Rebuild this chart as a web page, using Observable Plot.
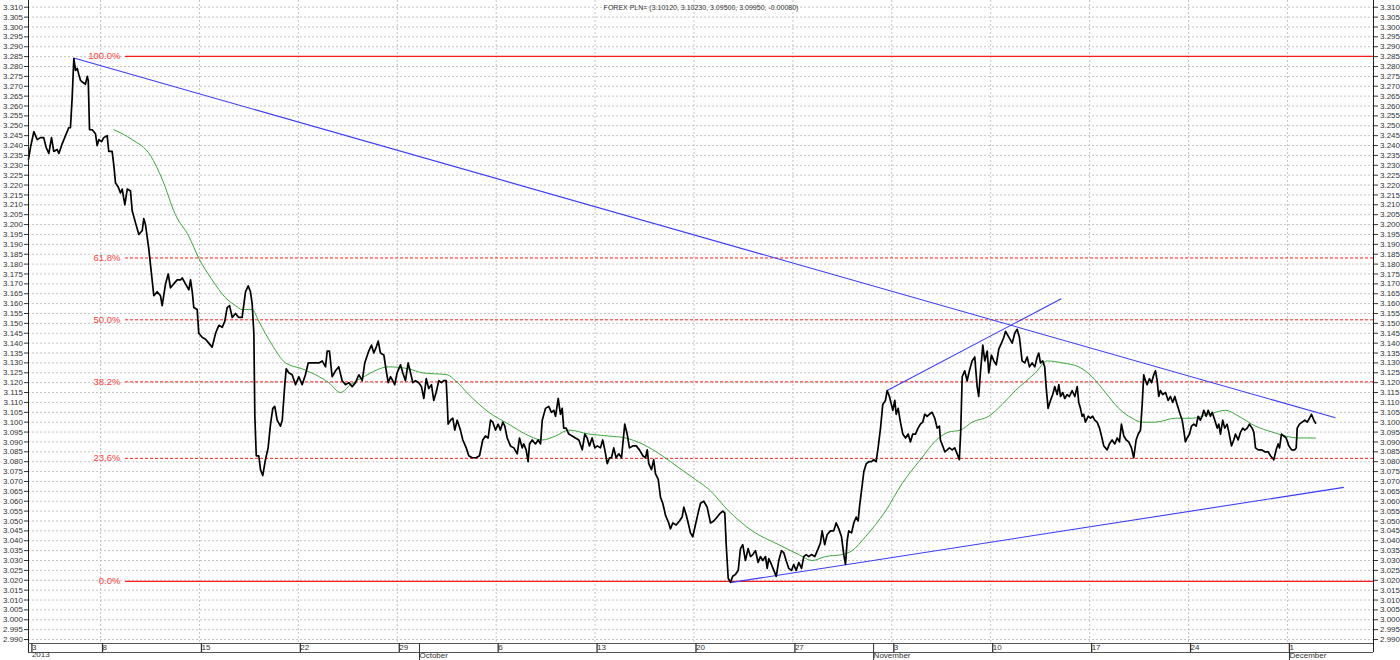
<!DOCTYPE html>
<html>
<head>
<meta charset="utf-8">
<script src="https://cdn.jsdelivr.net/npm/d3@7"></script>
<script src="https://cdn.jsdelivr.net/npm/@observablehq/plot@0.6"></script>
<style>
  html, body { margin: 0; padding: 0; background: #fff; }
  #chart svg { display: block; }
</style>
</head>
<body>
<div id="chart"></div>
<script>
// ---- Data (x = chart time position in days after 3 Sep 2013, as on the chart's axis) ----
const pricePos = [
  -0.10,0.04,0.28,0.52,0.75,0.98,1.15,1.34,1.53,1.69,
  1.93,2.05,2.29,2.52,2.75,2.87,2.99,3.11,3.23,3.35,
  3.46,3.58,3.74,3.93,4.06,4.13,4.22,4.41,4.64,4.76,
  4.88,5.07,5.23,5.47,5.58,5.82,5.94,6.06,6.25,6.41,
  6.53,6.72,6.89,7.12,7.24,7.47,7.71,7.95,8.06,8.18,
  8.41,8.53,8.77,9.01,9.24,9.36,9.60,9.79,9.95,10.18,
  10.42,10.66,10.78,11.01,11.25,11.37,11.49,11.60,11.84,11.95,
  12.19,12.43,12.66,12.90,13.14,13.37,13.61,13.79,13.96,14.13,
  14.32,14.55,14.78,15.02,15.26,15.45,15.61,15.73,15.85,15.92,
  16.02,16.20,16.32,16.48,16.67,16.86,17.03,17.19,17.33,17.50,
  17.73,17.86,18.04,18.14,18.32,18.56,18.80,19.03,19.27,19.50,
  19.70,19.98,20.21,20.45,20.69,20.92,21.04,21.20,21.39,21.63,
  21.86,22.10,22.34,22.57,22.81,
  23.04,23.28,23.52,23.70,23.98,24.18,24.34,24.51,24.65,24.81,
  25.05,25.22,25.36,25.52,25.68,25.82,25.99,26.23,26.39,26.58,
  26.77,26.94,27.10,27.29,27.52,27.71,27.88,28.05,28.23,28.42,
  28.58,28.75,28.94,29.13,29.29,29.46,29.53,29.60,29.77,29.93,
  30.07,30.24,30.47,30.64,30.88,31.06,31.30,31.58,31.82,32.05,
  32.24,32.43,32.60,32.76,32.95,33.14,33.30,33.47,33.61,33.78,
  34.01,34.25,34.49,34.65,34.84,34.95,35.12,35.26,35.36,35.55,
  35.78,35.97,36.14,36.26,36.49,36.72,36.91,37.08,37.20,37.39,
  37.55,37.67,37.78,37.95,38.14,38.38,38.61,38.85,39.09,39.27,
  39.44,39.60,39.79,39.98,40.15,40.38,40.54,40.69,40.86,41.02,
  41.16,41.32,41.49,41.68,41.87,42.10,42.27,42.43,42.67,42.91,
  43.14,43.38,43.57,43.69,43.80,43.99,44.15,44.27,44.47,44.63,
  44.79,44.98,45.21,45.33,45.50,45.74,45.97,46.16,46.28,46.45,
  46.59,46.75,46.91,47.10,47.29,47.46,47.69,47.93,48.17,48.40,
  48.64,48.87,49.04,49.18,49.28,49.42,49.58,49.74,49.94,50.13,
  50.29,50.45,50.64,50.83,51.00,51.16,51.35,51.54,51.70,51.87,
  52.06,52.18,52.29,52.48,52.65,52.82,53.00,53.19,53.35,53.52,
  53.71,53.90,54.06,54.23,54.42,54.61,54.77,54.94,55.12,55.31,
  55.55,55.79,55.95,56.07,56.25,56.42,56.66,56.89,57.06,57.25,
  57.44,57.60,57.72,57.84,57.95,58.15,58.31,58.48,58.62,58.71,
  58.85,59.02,59.19,59.37,59.56,59.72,59.89,60.03,60.20,60.36,
  60.55,60.67,60.83,60.97,61.07,61.21,61.31,61.45,61.61,61.78,
  61.97,62.16,62.32,62.48,62.67,62.86,63.02,63.19,63.33,63.50,
  63.66,63.85,64.04,64.21,64.37,64.44,64.60,64.75,64.92,65.08,
  65.27,65.45,65.62,65.78,65.88,65.98,66.16,66.33,66.49,66.68,
  66.87,67.04,67.15,67.27,67.44,67.58,67.75,67.86,68.05,68.22,
  68.39,68.57,68.76,68.93,
  69.05,69.28,69.52,69.70,69.87,70.03,70.22,70.41,70.58,70.74,
  70.93,71.12,71.29,71.40,71.52,71.68,71.82,71.92,72.06,72.23,
  72.39,72.53,72.70,72.82,72.94,73.10,73.24,73.41,73.57,73.76,
  73.95,74.12,74.23,74.35,74.47,74.58,74.70,74.90,75.06,75.22,
  75.36,75.53,75.70,75.84,76.00,76.24,76.40,76.59,76.78,76.95,
  77.11,77.25,77.42,77.59,77.77,77.96,78.12,78.29,78.44,78.60,
  78.72,78.83,78.95,79.07,79.23,79.38,79.54,79.66,79.78,79.89,
  80.01,80.17,80.37,80.56,80.72,80.88,81.03,81.19,81.36,81.55,
  81.66,81.78,81.90,82.07,82.21,82.37,82.54,82.68,82.84,82.96,
  83.08,83.25,83.39,83.55,83.67,83.86,84.03,84.14,84.26,84.42,
  84.56,84.73,84.85,85.04,85.20,85.32,85.51,85.68,85.84,85.98,
  86.15,86.31,86.50,86.62,86.74,86.93,87.16,87.40,87.64,87.80,
  88.03,88.20,88.34,88.44,88.58,88.74,88.91,89.10,89.29,89.52,
  89.62,89.69,89.85,90.04,90.23,90.40,90.56,90.70,90.87,90.99
];
const priceClose = [
  3.233,3.239,3.247,3.243,3.244,3.244,3.239,3.236,3.244,3.237,
  3.238,3.236,3.241,3.245,3.249,3.249,3.264,3.284,3.278,3.279,
  3.276,3.273,3.272,3.271,3.275,3.273,3.248,3.248,3.246,3.240,
  3.243,3.242,3.244,3.245,3.237,3.237,3.230,3.221,3.219,3.216,
  3.218,3.210,3.218,3.217,3.207,3.201,3.195,3.197,3.203,3.200,
  3.188,3.180,3.164,3.166,3.164,3.159,3.170,3.175,3.168,3.170,
  3.172,3.172,3.173,3.170,3.167,3.172,3.166,3.158,3.157,3.145,
  3.143,3.142,3.140,3.138,3.145,3.149,3.148,3.151,3.158,3.159,
  3.153,3.155,3.153,3.153,3.166,3.169,3.166,3.160,3.145,3.103,
  3.083,3.083,3.076,3.073,3.081,3.087,3.099,3.107,3.108,3.101,
  3.098,3.101,3.119,3.127,3.125,3.124,3.119,3.123,3.119,3.124,
  3.130,3.130,3.130,3.130,3.131,3.128,3.136,3.136,3.123,3.126,
  3.128,3.121,3.119,3.120,3.118,
  3.120,3.124,3.121,3.130,3.136,3.139,3.135,3.138,3.141,3.135,
  3.134,3.126,3.120,3.123,3.121,3.119,3.125,3.129,3.125,3.121,
  3.130,3.125,3.120,3.121,3.120,3.118,3.112,3.122,3.117,3.119,
  3.111,3.115,3.121,3.120,3.121,3.121,3.111,3.099,3.101,3.102,
  3.096,3.101,3.096,3.091,3.087,3.083,3.082,3.082,3.083,3.091,
  3.093,3.092,3.101,3.100,3.096,3.099,3.096,3.100,3.098,3.092,
  3.088,3.087,3.084,3.092,3.087,3.089,3.086,3.080,3.089,3.091,
  3.089,3.091,3.089,3.101,3.107,3.108,3.105,3.106,3.103,3.112,
  3.104,3.107,3.097,3.097,3.094,3.093,3.092,3.091,3.086,3.094,
  3.092,3.088,3.092,3.087,3.088,3.087,3.091,3.086,3.079,3.082,
  3.082,3.087,3.082,3.084,3.082,3.099,3.094,3.087,3.088,3.088,
  3.086,3.083,3.082,3.086,3.079,3.076,3.081,3.074,3.071,3.062,
  3.059,3.053,3.049,3.046,3.049,3.048,3.050,3.052,3.057,3.053,
  3.049,3.044,3.042,3.048,3.054,3.059,3.060,3.057,3.049,3.050,
  3.052,3.054,3.055,3.054,3.038,3.021,3.019,3.022,3.023,3.025,
  3.036,3.038,3.030,3.036,3.032,3.033,3.035,3.029,3.032,3.030,
  3.032,3.026,3.031,3.028,3.025,3.022,3.030,3.035,3.034,3.030,
  3.026,3.025,3.028,3.025,3.029,3.026,3.032,3.033,3.032,3.033,
  3.032,3.036,3.039,3.045,3.038,3.043,3.045,3.045,3.049,3.046,
  3.042,3.033,3.028,3.040,3.045,3.044,3.049,3.052,3.050,3.057,
  3.065,3.075,3.079,3.080,3.080,3.081,3.080,3.087,3.097,3.109,
  3.111,3.116,3.113,3.109,3.106,3.111,3.104,3.107,3.100,3.094,
  3.092,3.094,3.090,3.094,3.094,3.097,3.099,3.100,3.104,3.103,
  3.104,3.105,3.102,3.097,3.098,3.091,3.088,3.085,3.086,3.087,
  3.086,3.087,3.084,3.081,3.096,3.123,3.126,3.121,3.126,3.131,
  3.133,3.118,3.113,3.125,3.139,3.131,3.136,3.125,3.134,3.131,
  3.129,3.137,3.140,3.143,
  3.146,3.143,3.140,3.145,3.147,3.143,3.131,3.130,3.133,3.128,
  3.130,3.128,3.133,3.135,3.130,3.131,3.128,3.118,3.107,3.111,
  3.114,3.118,3.114,3.119,3.113,3.115,3.112,3.114,3.113,3.116,
  3.113,3.118,3.110,3.107,3.103,3.104,3.100,3.103,3.102,3.103,
  3.101,3.100,3.097,3.093,3.088,3.086,3.089,3.091,3.089,3.092,
  3.090,3.099,3.093,3.091,3.090,3.087,3.082,3.091,3.094,3.096,
  3.109,3.124,3.121,3.119,3.122,3.120,3.124,3.126,3.121,3.113,
  3.116,3.114,3.115,3.111,3.113,3.110,3.113,3.109,3.105,3.101,
  3.096,3.090,3.092,3.094,3.098,3.099,3.098,3.103,3.101,3.103,
  3.106,3.103,3.106,3.103,3.105,3.101,3.097,3.099,3.094,3.101,
  3.097,3.099,3.095,3.088,3.091,3.094,3.091,3.095,3.097,3.096,
  3.097,3.099,3.097,3.095,3.087,3.086,3.086,3.085,3.085,3.083,
  3.081,3.086,3.089,3.087,3.094,3.093,3.092,3.088,3.086,3.086,
  3.087,3.097,3.099,3.100,3.101,3.100,3.102,3.104,3.101,3.0995
];
// moving average (green)
const maPos = [
  5.94,7.24,8.53,9.36,10.30,11.25,11.95,12.90,13.84,14.55,
  15.02,15.73,16.20,17.15,18.09,19.27,20.21,21.15,21.98,22.69,
  23.63,25.40,26.81,27.76,29.53,30.12,31.06,32.48,33.89,35.07,
  36.26,37.20,38.14,39.55,40.97,42.15,43.33,44.75,45.92,47.10,
  48.05,49.46,51.12,53.00,54.42,55.36,56.30,57.48,58.19,59.13,
  60.55,61.73,62.91,64.32,65.03,65.86,66.68,67.86,68.81,69.75,
  71.16,71.99,73.05,74.23,75.17,76.12,77.06,78.01,78.72,79.66,
  81.07,82.25,83.43,84.61,85.55,86.74,87.92,88.86,89.82,90.99
];
const maValue = [
  3.248,3.243,3.235,3.223,3.205,3.194,3.183,3.172,3.163,3.159,
  3.157,3.157,3.151,3.139,3.130,3.127,3.124,3.120,3.115,3.119,
  3.123,3.128,3.127,3.125,3.124,3.121,3.114,3.105,3.099,3.094,
  3.091,3.093,3.096,3.094,3.093,3.092,3.089,3.083,3.077,3.071,
  3.066,3.055,3.045,3.038,3.033,3.030,3.032,3.033,3.035,3.042,
  3.055,3.069,3.080,3.092,3.095,3.096,3.100,3.103,3.109,3.116,
  3.125,3.131,3.130,3.128,3.123,3.115,3.107,3.102,3.100,3.100,
  3.102,3.102,3.104,3.106,3.103,3.098,3.095,3.093,3.092,3.092
];
// trend lines (blue)
const trendX1 = [3.11, 49.58, 60.67];
const trendY1 = [3.2843, 3.0188, 3.116];
const trendX2 = [92.40, 92.99, 72.99];
const trendY2 = [3.1022, 3.067, 3.1625];
// Fibonacci retracement levels
const fibLabels = ["100.0%", "61.8%", "50.0%", "38.2%", "23.6%", "0.0%"];
const fibValues = [3.2851, 3.1831, 3.1518, 3.1204, 3.0817, 3.0194];
const fibSolid  = [true, false, false, false, false, true];
// axis ticks
const weekPos    = [0, 5, 12, 19, 26, 33, 40, 47, 54, 61, 68, 75, 82, 89];
const weekLabels = ["3","8","15","22","29","6","13","20","27","3","10","17","24","1"];
const monthPos    = [0, 27.43, 59.57, 89];
const monthLabels = ["2013", "October", "November", "December"];
const yTickStart = 2.990, yTickEnd = 3.310, yTickStep = 0.005;
const title = "FOREX PLN= (3.10120, 3.10230, 3.09500, 3.09950, -0.00080)";

// ---- build tables ----
const price = pricePos.map((p, i) => ({pos: p, close: priceClose[i]}));
const ma = maPos.map((p, i) => ({pos: p, value: maValue[i]}));
const trends = trendX1.map((x, i) => ({x1: x, y1: trendY1[i], x2: trendX2[i], y2: trendY2[i]}));
const fibs = fibLabels.map((l, i) => ({label: l, value: fibValues[i], solid: fibSolid[i]}));
const yTicks = d3.range(Math.round(yTickStart / yTickStep), Math.round(yTickEnd / yTickStep) + 1).map(k => +(k * yTickStep).toFixed(3));
const weekMap = new Map(weekPos.map((p, i) => [p, weekLabels[i]]));
const monthMap = new Map(monthPos.map((p, i) => [p, monthLabels[i]]));

const xDomain = [-0.099, 95.09];
const yDomain = [2.988, 3.3134];
const fibLabelPos = 6.41, fibLineStart = 6.77;

const axisColor = "#333";
const gridStyle = {stroke: "#c4c4c4", strokeOpacity: 1, strokeDasharray: "2,2"};

const chart = Plot.plot({
  width: 1400,
  height: 660,
  marginLeft: 28,
  marginRight: 27,
  marginTop: 0,
  marginBottom: 17,
  x: {type: "linear", domain: xDomain, axis: null},
  y: {type: "linear", domain: yDomain, axis: null},
  style: {fontFamily: "'Liberation Sans', Arial, sans-serif", fontSize: "8px", background: "#fff", color: "#000", overflow: "visible"},
  marks: [
    Plot.gridY(yTicks, gridStyle),
    Plot.gridX(weekPos.slice(1), gridStyle),
    // Fibonacci lines
    Plot.ruleY(fibs.filter(d => d.solid), {y: "value", x1: fibLineStart, x2: xDomain[1], stroke: "#ff1a1a", strokeWidth: 1.2}),
    Plot.ruleY(fibs.filter(d => !d.solid), {y: "value", x1: fibLineStart, x2: xDomain[1], stroke: "#ff1a1a", strokeWidth: 1, strokeDasharray: "3,2"}),
    Plot.text(fibs, {x: () => fibLabelPos, y: "value", text: "label", textAnchor: "end", fill: "#ff3b3b", fontSize: 9.5}),
    // moving average
    Plot.line(ma, {x: "pos", y: "value", stroke: "#3aa83a", strokeWidth: 1, curve: "monotone-x"}),
    // trend lines
    Plot.link(trends, {x1: "x1", y1: "y1", x2: "x2", y2: "y2", stroke: "#3a3aff", strokeWidth: 1.1}),
    // price
    Plot.line(price, {x: "pos", y: "close", stroke: "#000", strokeWidth: 1.7}),
    // frame / axis lines
    Plot.ruleX([xDomain[0], xDomain[1]], {stroke: "#222", insetBottom: -9}),
    Plot.ruleY([yDomain[0]], {stroke: "#555"}),
    Plot.ruleY([yDomain[0]], {stroke: "#555", dy: 9}),
    // y axes
    Plot.axisY(yTicks, {anchor: "left", tickSize: 4, tickPadding: 1.5, tickFormat: d3.format(".3f"), color: axisColor, fontSize: 8}),
    Plot.axisY(yTicks, {anchor: "right", tickSize: 4, tickPadding: 2.5, tickFormat: d3.format(".3f"), color: axisColor, fontSize: 8}),
    // x axes
    Plot.axisX(weekPos, {anchor: "bottom", tickSize: 9, tickPadding: -8, tickFormat: d => weekMap.get(d), textAnchor: "start", dx: 2, color: axisColor, fontSize: 8, strokeWidth: 1.3}),
    Plot.axisX(monthPos.slice(1), {anchor: "bottom", tickSize: 17, tickPadding: -8, tickFormat: d => monthMap.get(d), textAnchor: "start", dx: 2, color: axisColor, fontSize: 8}),
    Plot.text([monthLabels[0]], {x: () => monthPos[0], frameAnchor: "bottom", dy: 13, textAnchor: "start", dx: 2, fill: axisColor, fontSize: 8}),
    // title
    Plot.text([title], {frameAnchor: "top", dy: 5, fontSize: 7, fill: "#333"})
  ]
});
document.getElementById("chart").append(chart);
</script>
</body>
</html>
